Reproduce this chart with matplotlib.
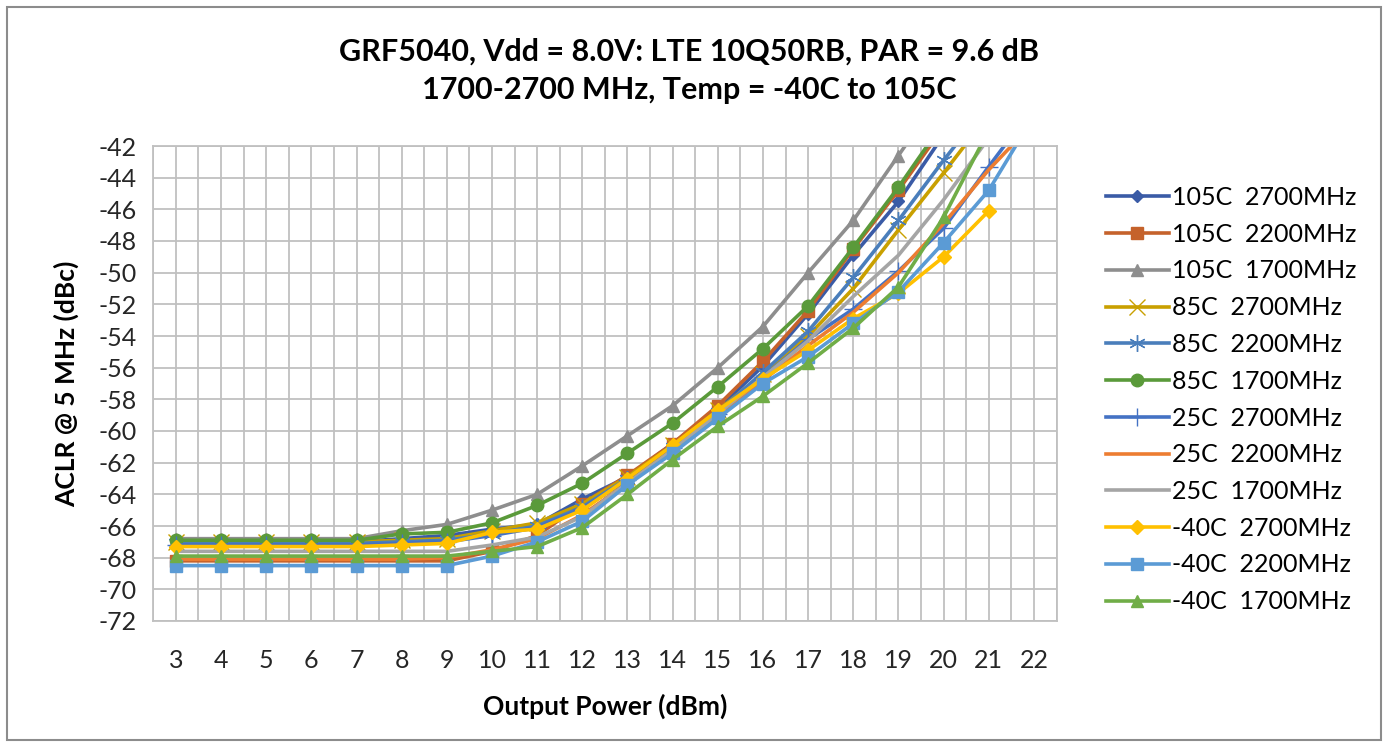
import numpy as np
import matplotlib
matplotlib.use("Agg")
import matplotlib.pyplot as plt
from matplotlib.patches import Rectangle

plt.rcParams['font.family'] = ['Lato', 'DejaVu Sans']
plt.rcParams['axes.unicode_minus'] = False

nan = np.nan
power = np.arange(3, 23)

# ACLR values (dBc), x = 3..22 dBm
t105_2700 = [-67.0, -67.0, -67.0, -67.0, -67.0, -66.8, -66.6, -66.2, -65.9, -64.3,
             -62.9, -60.8, -58.6, -55.9, -52.6, -48.9, -45.5, -41.3, nan, nan]
t105_2200 = [-68.2, -68.2, -68.2, -68.2, -68.2, -68.2, -68.2, -67.6, -66.6, -64.6,
             -62.8, -60.8, -58.4, -55.6, -52.4, -48.5, -44.8, -40.8, nan, nan]
t105_1700 = [-66.8, -66.8, -66.8, -66.8, -66.8, -66.3, -65.9, -65.0, -64.0, -62.2,
             -60.3, -58.4, -56.0, -53.4, -50.0, -46.7, -42.6, -38.5, nan, nan]
t85_2700 = [-67.0, -67.0, -67.0, -67.0, -67.0, -66.9, -66.8, -66.3, -65.8, -64.6,
            -62.9, -60.9, -58.7, -56.4, -54.0, -51.0, -47.3, -43.7, -40.0, nan]
t85_2200 = [-67.1, -67.1, -67.1, -67.1, -67.1, -67.0, -66.9, -66.5, -66.0, -64.8,
            -63.0, -61.0, -58.8, -56.3, -53.7, -50.3, -46.7, -42.9, -39.3, nan]
t85_1700 = [-66.9, -66.9, -66.9, -66.9, -66.9, -66.5, -66.4, -65.8, -64.7, -63.3,
            -61.4, -59.5, -57.2, -54.8, -52.1, -48.4, -44.6, -40.5, nan, nan]
t25_2700 = [-67.2, -67.2, -67.2, -67.2, -67.2, -67.1, -67.0, -66.6, -66.1, -64.9,
            -63.1, -61.1, -58.9, -56.6, -54.2, -52.3, -49.9, -47.2, -43.3, -39.5]
t25_2200 = [-68.1, -68.1, -68.1, -68.1, -68.1, -68.1, -68.0, -67.5, -66.8, -65.3,
            -63.3, -61.2, -59.0, -56.8, -54.6, -52.5, -50.0, -46.9, -43.5, -40.5]
t25_1700 = [-67.6, -67.6, -67.6, -67.6, -67.6, -67.6, -67.6, -67.2, -66.7, -65.4,
            -63.3, -61.2, -58.9, -56.6, -54.3, -51.5, -48.9, -45.4, -41.5, nan]
tm40_2700 = [-67.3, -67.3, -67.3, -67.3, -67.3, -67.2, -67.1, -66.4, -66.2, -65.0,
             -63.0, -60.9, -58.7, -56.7, -54.9, -52.9, -51.3, -49.0, -46.1, nan]
tm40_2200 = [-68.5, -68.5, -68.5, -68.5, -68.5, -68.5, -68.5, -67.9, -67.0, -65.7,
             -63.4, -61.4, -59.2, -57.0, -55.3, -53.2, -51.2, -48.1, -44.8, -40.1]
tm40_1700 = [-67.9, -67.9, -67.9, -67.9, -67.9, -67.9, -67.9, -67.6, -67.3, -66.1,
             -64.0, -61.8, -59.7, -57.8, -55.7, -53.5, -50.9, -46.5, -41.0, nan]

labels = ["105C  2700MHz", "105C  2200MHz", "105C  1700MHz",
          "85C  2700MHz", "85C  2200MHz", "85C  1700MHz",
          "25C  2700MHz", "25C  2200MHz", "25C  1700MHz",
          "-40C  2700MHz", "-40C  2200MHz", "-40C  1700MHz"]
series = [t105_2700, t105_2200, t105_1700, t85_2700, t85_2200, t85_1700,
          t25_2700, t25_2200, t25_1700, tm40_2700, tm40_2200, tm40_1700]
colors = ["#3A5BA6", "#C5622B", "#8E8E8E", "#C9A000", "#4A7EBB", "#5A9A3A",
          "#4472C4", "#ED7D31", "#A5A5A5", "#FFC000", "#5B9BD5", "#70AD47"]
markers = ["D", "s", "^", "x", (6, 2, 0), "o", "+", "", "", "D", "s", "^"]
msizes = [6, 8, 9, 11, 12, 9, 13, 0, 0, 7, 8, 9]

fig = plt.figure(figsize=(13.87, 7.46), dpi=100)
ax = fig.add_axes([153.3 / 1387, 1 - 621 / 746, (1056.5 - 153.3) / 1387, (621 - 146) / 746])

for vals, lab, c, m, ms in zip(series, labels, colors, markers, msizes):
    if m in ("x", "+") or isinstance(m, tuple):
        ax.plot(power, vals, color=c, lw=2.6, marker=m, ms=ms, mew=1.0, label=lab)
    else:
        ax.plot(power, vals, color=c, lw=2.6, marker=m if m else None, ms=ms,
                mec=c, mfc=c, label=lab)

ax.set_xlim(2.5, 22.5)
ax.set_ylim(-72, -42)
ax.set_xticks(power)
ax.set_xticks(np.arange(2.5, 23, 1.0), minor=True)
ax.set_yticks(np.arange(-72, -41, 2))
ax.grid(True, which='both', color='#C0C0C0', lw=1.3)
ax.set_axisbelow(True)
ax.tick_params(which='both', length=0, labelsize=18, colors='#262626')
ax.tick_params(axis='x', pad=20)
ax.tick_params(axis='y', pad=12)
for s in ax.spines.values():
    s.set_color('#C0C0C0')
    s.set_linewidth(1.3)

ax.set_xlabel("Output Power (dBm)", fontsize=19, fontweight='bold', labelpad=16)
ax.set_ylabel("ACLR @ 5 MHz (dBc)", fontsize=19, fontweight='bold', labelpad=14)
fig.text(0.497, 0.905, "GRF5040, Vdd = 8.0V: LTE 10Q50RB, PAR = 9.6 dB\n1700-2700 MHz, Temp = -40C to 105C",
         ha='center', va='center', fontsize=22, fontweight='bold', linespacing=1.45)

leg = fig.legend(loc='upper left', bbox_to_anchor=(1096 / 1387, 1 - 176 / 746), frameon=False,
                 fontsize=18, handlelength=2.5, handletextpad=0.15, labelspacing=0.55,
                 borderaxespad=0)

fig.add_artist(Rectangle((6.5 / 1387, 6.5 / 746), 1 - 13 / 1387, 1 - 13 / 746,
                         transform=fig.transFigure, fill=False, ec='#8C8C8C', lw=1.5))

fig.savefig("out.png", dpi=100)
